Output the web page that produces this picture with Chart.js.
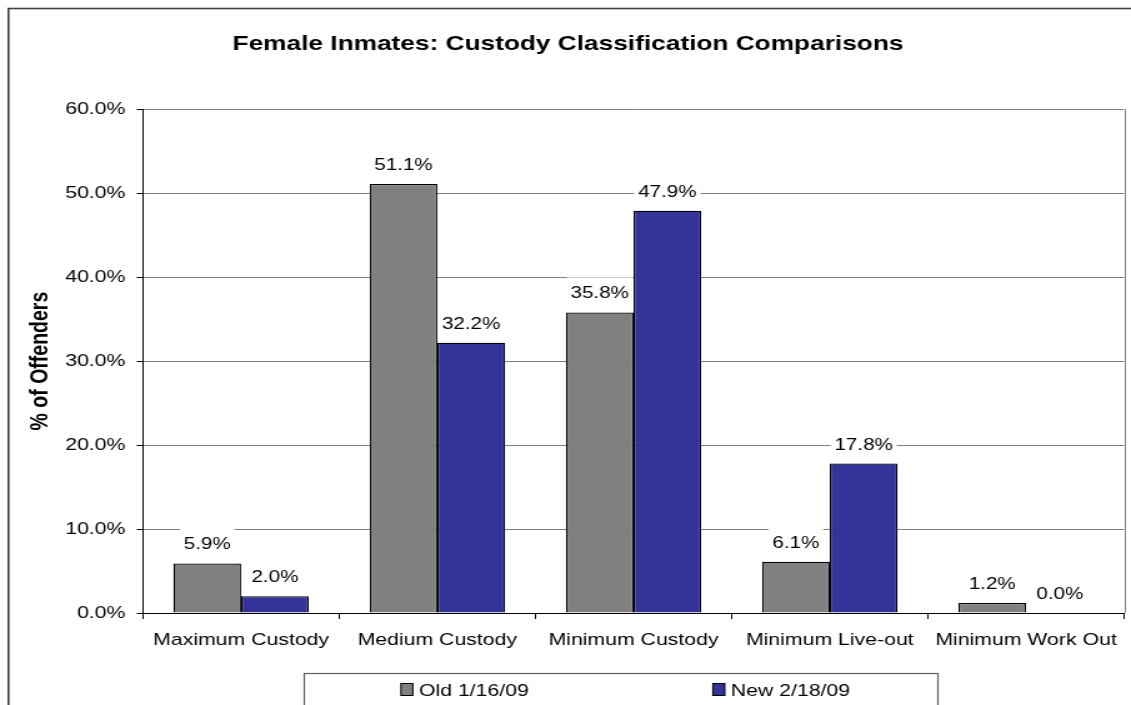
<!DOCTYPE html>
<html>
<head>
<meta charset="utf-8">
<title>Female Inmates: Custody Classification Comparisons</title>
<script src="https://cdn.jsdelivr.net/npm/chart.js@4.4.1/dist/chart.umd.min.js"></script>
<style>
  html, body { margin: 0; padding: 0; background: #fff; overflow: hidden; }
  /* the chart is drawn narrow and widened, like the stretched Excel export */
  #wrap { width: 905px; height: 705px; transform: scale(1.2497, 1); transform-origin: 0 0; }
</style>
</head>
<body>
<div id="wrap"><canvas id="myChart" width="905" height="705"></canvas></div>
<script>
var categories = ["Maximum Custody", "Medium Custody", "Minimum Custody", "Minimum Live-out", "Minimum Work Out"]
var seriesNames = ["Old 1/16/09", "New 2/18/09"]
var oldValues = [5.9, 51.1, 35.8, 6.1, 1.2]
var newValues = [2.0, 32.2, 47.9, 17.8, 0.0]
var seriesColors = ["#808080", "#333399"]

var SX = 1131 / 905  // horizontal stretch of the page

Chart.defaults.font.family = "'Liberation Sans', Arial, sans-serif"
Chart.defaults.color = "#000"

// white-backed value labels above each bar
var valueLabels = {
    id: 'valueLabels',
    afterDatasetsDraw: function(chart) {
        var ctx = chart.ctx
        ctx.save()
        ctx.font = "16.5px 'Liberation Sans', Arial, sans-serif"
        ctx.textAlign = 'center'
        ctx.textBaseline = 'alphabetic'
        chart.data.datasets.forEach(function(ds, i) {
            chart.getDatasetMeta(i).data.forEach(function(bar, j) {
                var txt = ds.data[j].toFixed(1) + '%'
                var w = ctx.measureText(txt).width
                var base = bar.y - 14
                ctx.fillStyle = '#fff'
                ctx.fillRect(bar.x - w / 2 - 3, base - 21, w + 6, 25)
                ctx.fillStyle = '#000'
                ctx.fillText(txt, bar.x, base)
            })
        })
        ctx.restore()
    }
}

// outer frame, right edge of the plot, and the boxed legend at the bottom
var frame = {
    id: 'frame',
    afterDraw: function(chart) {
        var ctx = chart.ctx
        var area = chart.chartArea
        ctx.save()
        ctx.strokeStyle = '#808080'
        ctx.lineWidth = 1
        ctx.beginPath()
        ctx.moveTo(Math.round(area.right) + 0.5, area.top)
        ctx.lineTo(Math.round(area.right) + 0.5, area.bottom)
        ctx.stroke()

        ctx.strokeStyle = '#404040'
        ctx.lineWidth = 1.6
        ctx.strokeRect(6.8, 8.5, 1000, 1000)

        ctx.strokeStyle = '#606060'
        ctx.lineWidth = 1.2
        ctx.strokeRect(243.5, 673.5, 507, 100)

        var itemX = [320.8, 570.4]
        ctx.font = "17px 'Liberation Sans', Arial, sans-serif"
        ctx.textBaseline = 'alphabetic'
        chart.data.datasets.forEach(function(ds, i) {
            var x = itemX[i]
            ctx.fillStyle = ds.backgroundColor
            ctx.fillRect(x, 683.5, 12 / SX, 12)
            ctx.strokeStyle = '#000'
            ctx.lineWidth = 1
            ctx.strokeRect(x, 683.5, 12 / SX, 12)
            ctx.fillStyle = '#000'
            ctx.fillText(ds.label, x + 18 / SX, 696)
        })
        ctx.restore()
    }
}

var ctx = document.getElementById('myChart')
var myChart = new Chart(ctx, {
    type: 'bar',
    data: {
        labels: categories,
        datasets: [
            {label: seriesNames[0], data: oldValues, backgroundColor: seriesColors[0], borderColor: '#000', borderWidth: 1.3},
            {label: seriesNames[1], data: newValues, backgroundColor: seriesColors[1], borderColor: '#000', borderWidth: 1.3}
        ]
    },
    options: {
        responsive: false,
        animation: false,
        devicePixelRatio: 1,
        layout: {padding: {left: 8, right: 4, top: 0, bottom: 0}},
        datasets: {bar: {categoryPercentage: 0.69, barPercentage: 1.0}},
        plugins: {
            legend: {display: false},
            tooltip: {enabled: false},
            title: {
                display: true,
                text: 'Female Inmates: Custody Classification Comparisons',
                font: {size: 21, weight: 'bold'},
                color: '#000',
                padding: {top: 32, bottom: 52}
            }
        },
        scales: {
            x: {
                grid: {drawOnChartArea: false, drawTicks: true, tickLength: 6, color: '#000'},
                border: {color: '#000', width: 1},
                ticks: {font: {size: 17}, color: '#000', maxRotation: 0, autoSkip: false, padding: 11},
                afterFit: function(scale) { scale.height = 92 }
            },
            y: {
                min: 0,
                max: 60,
                grid: {color: '#808080', tickColor: '#000', tickLength: 5},
                border: {color: '#000', width: 1},
                ticks: {
                    stepSize: 10,
                    font: {size: 17},
                    color: '#000',
                    padding: 9,
                    callback: function(v) { return v.toFixed(1) + '%' }
                },
                title: {
                    display: true,
                    text: '% of Offenders',
                    font: {size: 19.5, weight: 'bold'},
                    color: '#000',
                    padding: {top: 13, bottom: 0}
                },
                afterFit: function(scale) { scale.width = 106.4 }
            }
        }
    },
    plugins: [valueLabels, frame]
});
</script>
</body>
</html>
